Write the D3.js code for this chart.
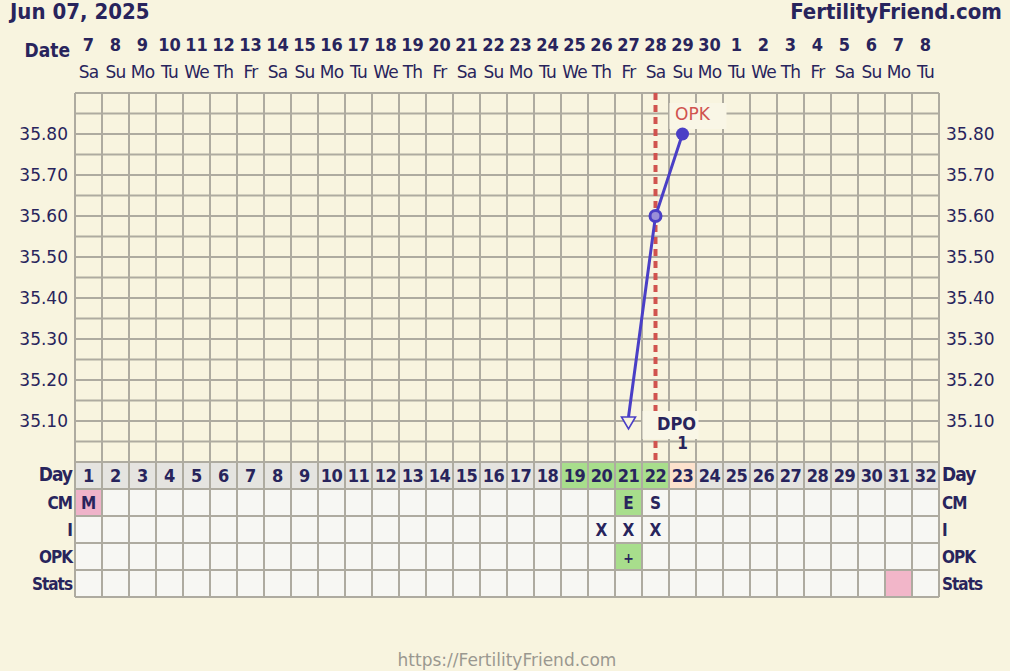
<!DOCTYPE html>
<html><head><meta charset="utf-8">
<script src="https://cdn.jsdelivr.net/npm/d3@7"></script>
<style>
html,body{margin:0;padding:0;background:#f8f4df;}
svg{display:block;}
</style></head>
<body>
<svg id="c" width="1010" height="671"></svg>
<script>
// ---- data ----
const title = "Jun 07, 2025";
const brand = "FertilityFriend.com";
const footer = "https://FertilityFriend.com";
const dates = [7,8,9,10,11,12,13,14,15,16,17,18,19,20,21,22,23,24,25,26,27,28,29,30,1,2,3,4,5,6,7,8];
const weekdays = ["Sa","Su","Mo","Tu","We","Th","Fr","Sa","Su","Mo","Tu","We","Th","Fr","Sa","Su","Mo","Tu","We","Th","Fr","Sa","Su","Mo","Tu","We","Th","Fr","Sa","Su","Mo","Tu"];
const cycleDays = d3.range(1,33);
const tempTicks = [35.10,35.20,35.30,35.40,35.50,35.60,35.70,35.80];
const tempDays = [21,22,23];
const tempValues = [35.10,35.60,35.80];
const tempMarkers = ["lowTriangle","ring","dot"];
const ovulationDay = 22;
const fertileDays = [19,20,21,22];
const peachDays = [23];
const dpoDay = 23, dpoValue = "1";
const rowLabels = ["Day","CM","I","OPK","Stats"];
const cmDays = [1,21,22], cmValues = ["M","E","S"], cmColors = ["#efb3c9","#a8de8c",null];
const intercourseDays = [20,21,22];
const opkDays = [21], opkValues = ["+"];
const statsDays = [31];

// ---- layout ----
const svg = d3.select("#c");
const L = 75, R = 939, T = 93, B = 462;
const navy = "#28245c", grid = "#aeaba0";
const x = d3.scaleLinear().domain([0.5,32.5]).range([L,R]);
const y = d3.scaleLinear().domain([35.0,35.9]).range([B,T]);
const cw = x(2)-x(1);
const rowH = 27;
const rowTop = i => B + i*rowH;
const bold = "'DejaVu Sans Condensed','DejaVu Sans',sans-serif";
const reg = "'DejaVu Sans',Verdana,sans-serif";

// header
svg.append("text").attr("x",10).attr("y",19).attr("font-family",bold).attr("font-weight","bold")
  .attr("font-size",22).attr("fill",navy).text(title);
svg.append("text").attr("x",1002).attr("y",19).attr("text-anchor","end").attr("font-family",bold).attr("font-weight","bold")
  .attr("font-size",22).attr("fill",navy).text(brand);

// date rows
svg.append("text").attr("x",70).attr("y",57).attr("text-anchor","end").attr("font-family",bold).attr("font-weight","bold")
  .attr("font-size",19).attr("fill",navy).text("Date");
svg.selectAll(".dn").data(dates).join("text").attr("x",(d,i)=>x(i+1)).attr("y",51).attr("text-anchor","middle")
  .attr("font-family",bold).attr("font-weight","bold").attr("font-size",18).attr("fill",navy).text(d=>d);
svg.selectAll(".wd").data(weekdays).join("text").attr("x",(d,i)=>x(i+1)).attr("y",78).attr("text-anchor","middle")
  .attr("font-family",reg).attr("font-size",17).attr("letter-spacing",-0.8).attr("fill",navy).text(d=>d);

// table cell backgrounds
const dayFill = d => fertileDays.includes(d) ? "#a8de8c" : peachDays.includes(d) ? "#fde2cd" : "#e5e4e0";
svg.selectAll(".dc").data(cycleDays).join("rect").attr("x",d=>x(d)-cw/2).attr("y",rowTop(0)).attr("width",cw).attr("height",rowH).attr("fill",dayFill);
for (let r=1;r<5;r++){
  svg.append("g").selectAll("rect").data(cycleDays).join("rect").attr("x",d=>x(d)-cw/2).attr("y",rowTop(r)).attr("width",cw).attr("height",rowH).attr("fill","#f7f7f3");
}
cmDays.forEach((d,i)=>{ if(cmColors[i]) svg.append("rect").attr("x",x(d)-cw/2).attr("y",rowTop(1)).attr("width",cw).attr("height",rowH).attr("fill",cmColors[i]); });
opkDays.forEach(d=>svg.append("rect").attr("x",x(d)-cw/2).attr("y",rowTop(3)).attr("width",cw).attr("height",rowH).attr("fill","#a8de8c"));
statsDays.forEach(d=>svg.append("rect").attr("x",x(d)-cw/2).attr("y",rowTop(4)).attr("width",cw).attr("height",rowH).attr("fill","#f2b6c9"));

// grid
const g = svg.append("g").attr("stroke",grid).attr("stroke-width",2);
d3.range(0,33).forEach(i=>{
  g.append("line").attr("x1",x(i+0.5)).attr("x2",x(i+0.5)).attr("y1",T).attr("y2",rowTop(5));
});
d3.range(35.0,35.901,0.05).forEach(v=>{
  g.append("line").attr("x1",L).attr("x2",R).attr("y1",y(v)).attr("y2",y(v));
});
for(let r=0;r<=5;r++) g.append("line").attr("x1",L).attr("x2",R).attr("y1",rowTop(r)).attr("y2",rowTop(r));

// axis labels
[["left",L-7,"end"],["right",R+7,"start"]].forEach(([k,px,anc])=>{
  svg.selectAll(".t"+k).data(tempTicks).join("text").attr("x",px).attr("y",v=>y(v)+6).attr("text-anchor",anc)
    .attr("font-family",reg).attr("font-size",17).attr("fill",navy).text(v=>v.toFixed(2));
});

// day numbers
svg.selectAll(".dnum").data(cycleDays).join("text").attr("x",d=>x(d)).attr("y",rowTop(0)+20).attr("text-anchor","middle")
  .attr("font-family",bold).attr("font-weight","bold").attr("font-size",18).attr("letter-spacing",-0.5).attr("fill",navy).text(d=>d);
rowLabels.forEach((t,i)=>{
  const sz = i===0?19:17;
  svg.append("text").attr("x",L-3).attr("y",rowTop(i)+(i===0?19:20)).attr("text-anchor","end").attr("font-family",bold)
    .attr("font-weight","bold").attr("font-size",sz).attr("letter-spacing",-1).attr("fill",navy).text(t);
  svg.append("text").attr("x",R+3).attr("y",rowTop(i)+(i===0?19:20)).attr("text-anchor","start").attr("font-family",bold)
    .attr("font-weight","bold").attr("font-size",sz).attr("letter-spacing",-1).attr("fill",navy).text(t);
});
const cellText = (d,r,t)=>svg.append("text").attr("x",x(d)).attr("y",rowTop(r)+20).attr("text-anchor","middle")
  .attr("font-family",bold).attr("font-weight","bold").attr("font-size",17).attr("fill",navy).text(t);
cmDays.forEach((d,i)=>cellText(d,1,cmValues[i]));
intercourseDays.forEach(d=>cellText(d,2,"X"));
opkDays.forEach((d,i)=>cellText(d,3,opkValues[i]).attr("font-size",14));

// ovulation line
svg.append("line").attr("x1",x(ovulationDay)).attr("x2",x(ovulationDay)).attr("y1",T).attr("y2",B)
  .attr("stroke","#d0534f").attr("stroke-width",4).attr("stroke-dasharray","7,5");

// OPK label
svg.append("rect").attr("x",x(23)-13).attr("y",T+10).attr("width",57).attr("height",26).attr("fill","#f9f6e6");
svg.append("text").attr("x",x(23)+10).attr("y",T+27).attr("text-anchor","middle").attr("font-family",reg)
  .attr("font-size",17).attr("fill","#d0534f").text("OPK");

// DPO label
svg.append("rect").attr("x",x(dpoDay)-40).attr("y",y(35.1)-10).attr("width",56).attr("height",28).attr("fill","#f9f6e6");
svg.append("text").attr("x",x(dpoDay)-6).attr("y",y(35.1)+9).attr("text-anchor","middle").attr("font-family",bold)
  .attr("font-weight","bold").attr("font-size",18).attr("fill",navy).text("DPO");
svg.append("text").attr("x",x(dpoDay)).attr("y",y(35.05)+7).attr("text-anchor","middle").attr("font-family",bold)
  .attr("font-weight","bold").attr("font-size",17).attr("fill",navy).text(dpoValue);

// temperature line
const blue = "#4a3fc6";
const pts = tempDays.map((d,i)=>({d,v:tempValues[i],m:tempMarkers[i]}));
svg.append("path").datum(pts).attr("fill","none").attr("stroke",blue).attr("stroke-width",3)
  .attr("d",d3.line().x(p=>x(p.d)).y(p=>p.m==="lowTriangle"? y(p.v)-4 : y(p.v)));
pts.forEach(p=>{
  if(p.m==="lowTriangle"){
    const cx=x(p.d), cy=y(p.v);
    svg.append("path").attr("d",`M${cx-7},${cy-4}L${cx+7},${cy-4}L${cx},${cy+8}Z`).attr("fill","#f8f4df").attr("stroke",blue).attr("stroke-width",1.6);
  } else if(p.m==="ring"){
    svg.append("circle").attr("cx",x(p.d)).attr("cy",y(p.v)).attr("r",5.5).attr("fill","#9a8fd8").attr("stroke",blue).attr("stroke-width",3);
  } else {
    svg.append("circle").attr("cx",x(p.d)).attr("cy",y(p.v)).attr("r",6.5).attr("fill",blue);
  }
});

// footer
svg.append("text").attr("x",507).attr("y",666).attr("text-anchor","middle").attr("font-family",reg)
  .attr("font-size",17).attr("fill","#9a9890").text(footer);
</script>
</body></html>
